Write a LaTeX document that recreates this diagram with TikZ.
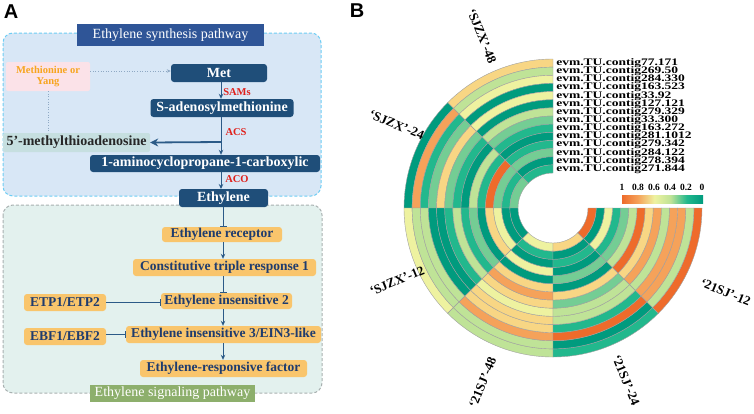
\documentclass[tikz,border=0pt]{standalone}
\usepackage{fontspec}
\setmainfont{Liberation Serif}
\newfontfamily\panelfont{Liberation Sans}
\usetikzlibrary{arrows.meta,positioning}

% colours of panel A
\definecolor{synthblue}{HTML}{1F4E79}
\definecolor{titleblue}{HTML}{2F5597}
\definecolor{bgblue}{HTML}{D8E7F6}
\definecolor{dashcyan}{HTML}{6CCDF4}
\definecolor{bgmint}{HTML}{E3F1EE}
\definecolor{dashgrey}{HTML}{A8B0B0}
\definecolor{mtagrey}{HTML}{C6DFE0}
\definecolor{methpink}{HTML}{FBE2E8}
\definecolor{methorange}{HTML}{F7A51E}
\definecolor{boxorange}{HTML}{F9C56C}
\definecolor{textblue}{HTML}{1F3C6E}
\definecolor{enzred}{HTML}{E0201B}
\definecolor{linkblue}{HTML}{2B5A87}
\definecolor{dotblue}{HTML}{8FA9C4}
\definecolor{signalgreen}{HTML}{8DAF6C}
% colours of the heat map
\definecolor{hmA}{HTML}{EE6B2B}
\definecolor{hmB}{HTML}{F5A25A}
\definecolor{hmC}{HTML}{F8D684}
\definecolor{hmD}{HTML}{EEF2A0}
\definecolor{hmE}{HTML}{BFE397}
\definecolor{hmF}{HTML}{74CD94}
\definecolor{hmG}{HTML}{22B88D}
\definecolor{hmH}{HTML}{009B7E}
\definecolor{cellgrey}{HTML}{A0A0A0}

\pgfdeclarehorizontalshading{hmbar}{100bp}{color(0bp)=(hmA); color(25bp)=(hmA); color(35bp)=(hmB); color(45bp)=(hmD); color(55bp)=(hmE); color(65bp)=(hmG); color(75bp)=(hmH); color(100bp)=(hmH)}

% one cell of the ring heat map: start angle, ring, colour letter
\newcommand{\hmcell}[3]{%
  \pgfmathsetmacro{\ro}{149-8.143*(#2-1)}%
  \pgfmathsetmacro{\ri}{\ro-8.143}%
  \filldraw[fill=hm#3,draw=cellgrey,line width=0.4pt] (#1:\ro) arc[start angle=#1,end angle=#1+45,radius=\ro] -- ({#1+45}:\ri) arc[start angle=#1+45,end angle=#1,radius=\ri] -- cycle;}

\tikzset{
  darkbox/.style={fill=synthblue,text=white,rounded corners=3pt,inner sep=0pt,minimum height=18pt,font=\fontsize{14}{14}\selectfont\bfseries},
  orangebox/.style={fill=boxorange,text=textblue,rounded corners=3pt,inner sep=0pt,minimum height=16pt,font=\fontsize{13.5}{13.5}\selectfont\bfseries},
  titlebox/.style={text=white,inner sep=0pt,font=\fontsize{14}{14}\selectfont},
  enzyme/.style={text=enzred,inner sep=0pt,font=\fontsize{10.5}{10.5}\selectfont\bfseries},
  arr/.style={draw=linkblue,line width=1pt,-{Stealth[length=5pt,width=4.5pt]}},
  inhib/.style={draw=linkblue,line width=0.8pt,-{Bar[width=7pt]}},
  gene/.style={anchor=west,inner sep=0pt,xscale=1.35,font=\fontsize{10}{10}\selectfont\bfseries},
  seclabel/.style={inner sep=0pt,font=\fontsize{13}{13}\selectfont\bfseries},
  barlabel/.style={inner sep=0pt,font=\fontsize{9.5}{9.5}\selectfont\bfseries},
  panel/.style={inner sep=0pt,font=\fontsize{20}{20}\selectfont\panelfont\bfseries}
}

\begin{document}
\begin{tikzpicture}[x=1pt,y=1pt]
    \useasboundingbox (0,0) rectangle (754,-413);

    \node[panel] (pA) at (11,-12) {A};
    \node[panel] (pB) at (357,-11) {B};

    %backgrounds of the two pathways
    \draw[fill=bgblue,draw=dashcyan,line width=1pt,dash pattern=on 3pt off 2pt,rounded corners=10pt] (3,-33) rectangle (321,-196);
    \draw[fill=bgmint,draw=dashgrey,line width=1pt,dash pattern=on 3pt off 2pt,rounded corners=10pt] (3,-205) rectangle (322,-393);

    \node[titlebox,fill=titleblue,minimum width=187pt,minimum height=22pt] (synth) at (170.5,-35) {Ethylene synthesis pathway};
    \node[titlebox,fill=signalgreen,minimum width=165pt,minimum height=17pt] (signal) at (172.5,-393.5) {Ethylene signaling pathway};

    %synthesis pathway
    \node[fill=methpink,text=methorange,rounded corners=2pt,inner sep=0pt,minimum width=84pt,minimum height=29pt,align=center,font=\fontsize{10.5}{11}\selectfont\bfseries] (meth) at (48,-76.5) {Methionine or\\Yang};
    \node[darkbox,minimum width=96pt] (met) at (219,-73) {Met};
    \node[darkbox,minimum width=143pt] (sam) at (222,-108) {S-adenosylmethionine};
    \node[fill=mtagrey,text=black!85,rounded corners=2pt,inner sep=0pt,minimum width=147pt,minimum height=19pt,font=\fontsize{14}{14}\selectfont\bfseries] (mta) at (76.5,-142.5) {5’-methylthioadenosine};
    \node[darkbox,minimum width=230pt,minimum height=17pt] (acc) at (205,-163.5) {1-aminocyclopropane-1-carboxylic};

    \node[enzyme] (sams) at (237,-92) {SAMs};
    \node[enzyme] (acs) at (236,-132) {ACS};
    \node[enzyme] (aco) at (237,-179) {ACO};

    \draw[dotblue,line width=0.6pt,dotted,-{Stealth[length=4pt,width=3.5pt]}] (meth.east |- 0,-71) -- (met.west |- 0,-71);
    \draw[dotblue,line width=0.6pt,dotted] (meth.south) -- (meth.south |- mta.north);

    \draw[arr] (met.south -| 221,0) -- (sam.north -| 221,0);
    \draw[arr] (sam.south -| 221,0) -- (acc.north -| 221,0);
    \draw[draw=linkblue,line width=1.8pt,-{Stealth[length=8pt,width=8pt]}] (221,-142) -- (mta.east);
    \draw[arr] (acc.south -| 221,0) -- (221,-189);

    %signaling pathway
    \node[orangebox,minimum width=120pt,minimum height=15pt] (rec) at (222,-234.5) {Ethylene receptor};
    \node[orangebox,minimum width=183pt,minimum height=17pt] (ctr) at (224.5,-267.5) {Constitutive triple response 1};
    \node[orangebox,minimum width=131pt] (ein2) at (226.5,-301) {Ethylene insensitive 2};
    \node[orangebox,minimum width=195pt,minimum height=17pt] (ein3) at (223.5,-334.5) {Ethylene insensitive 3/EIN3-like};
    \node[orangebox,minimum width=167pt,minimum height=17pt] (erf) at (223.5,-368.5) {Ethylene-responsive factor};
    \node[orangebox,minimum width=82pt,minimum height=17pt] (etp) at (65,-302.5) {ETP1/ETP2};
    \node[orangebox,minimum width=82pt,minimum height=17pt] (ebf) at (65,-336.5) {EBF1/EBF2};

    \node[darkbox,minimum width=89pt] (eth) at (223.5,-198) {Ethylene};

    \draw[inhib] (eth.south -| 223,0) -- (rec.north -| 223,0);
    \draw[arr] (rec.south -| 223,0) -- (ctr.north -| 223,0);
    \draw[inhib] (ctr.south -| 223,0) -- (ein2.north -| 223,0);
    \draw[arr] (ein2.south -| 223,0) -- (ein3.north -| 223,0);
    \draw[arr] (ein3.south -| 223,0) -- (erf.north -| 223,0);
    \draw[inhib] (etp.east) -- (etp.east -| ein2.west);
    \draw[inhib] (ebf.east |- ein3.west) -- (ein3.west);

    %ring heat map
    \begin{scope}[shift={(553,-208)}]
    \foreach \c [count=\k] in {C,E,D,H,D,H,E,F,G,H,G,F,H,G} {\hmcell{90}{\k}{\c}}%SJZX-48
    \foreach \c [count=\k] in {H,B,G,F,C,F,G,H,E,G,A,F,G,F} {\hmcell{135}{\k}{\c}}%SJZX-24
    \foreach \c [count=\k] in {D,E,E,H,H,G,E,G,F,H,C,D,H,H} {\hmcell{180}{\k}{\c}}%SJZX-12
    \foreach \c [count=\k] in {E,E,B,C,C,D,C,B,C,H,D,H,G,D} {\hmcell{225}{\k}{\c}}%21SJ-48
    \foreach \c [count=\k] in {G,H,A,G,E,E,F,C,H,F,H,G,H,C} {\hmcell{270}{\k}{\c}}%21SJ-24
    \foreach \c [count=\k] in {A,E,B,B,E,B,C,A,E,F,G,D,H,A} {\hmcell{315}{\k}{\c}}%21SJ-12

    \node[seclabel,rotate=-67.5] (s1) at (112.5:186) {‘SJZX’-48};
    \node[seclabel,rotate=-22.5] (s2) at (152:177) {‘SJZX’-24};
    \node[seclabel,rotate=22.5] (s3) at (205:172) {‘SJZX’-12};
    \node[seclabel,rotate=67.5] (s4) at (248:188) {‘21SJ’-48};
    \node[seclabel,rotate=-67.5] (s5) at (293:187) {‘21SJ’-24};
    \node[seclabel,rotate=-22.5] (s6) at (334:192) {‘21SJ’-12};
    \end{scope}

    %gene names
    \foreach \g [count=\k] in {77.171,269.50,284.330,163.523,33.92,127.121,279.329,33.300,163.272,281.1012,279.342,284.122,278.394,271.844}
        \node[gene] (g\k) at (556,{-59-8.143*(\k-0.5)}) {evm.TU.contig\g};

    %colour bar
    \shade[shading=hmbar] (622,-195) rectangle (703,-203);
    \foreach \v [count=\k] in {1,0.8,0.6,0.4,0.2,0}
        \node[barlabel] (b\k) at ({622+16*(\k-1)},-187.5) {\v};

\end{tikzpicture}
\end{document}
